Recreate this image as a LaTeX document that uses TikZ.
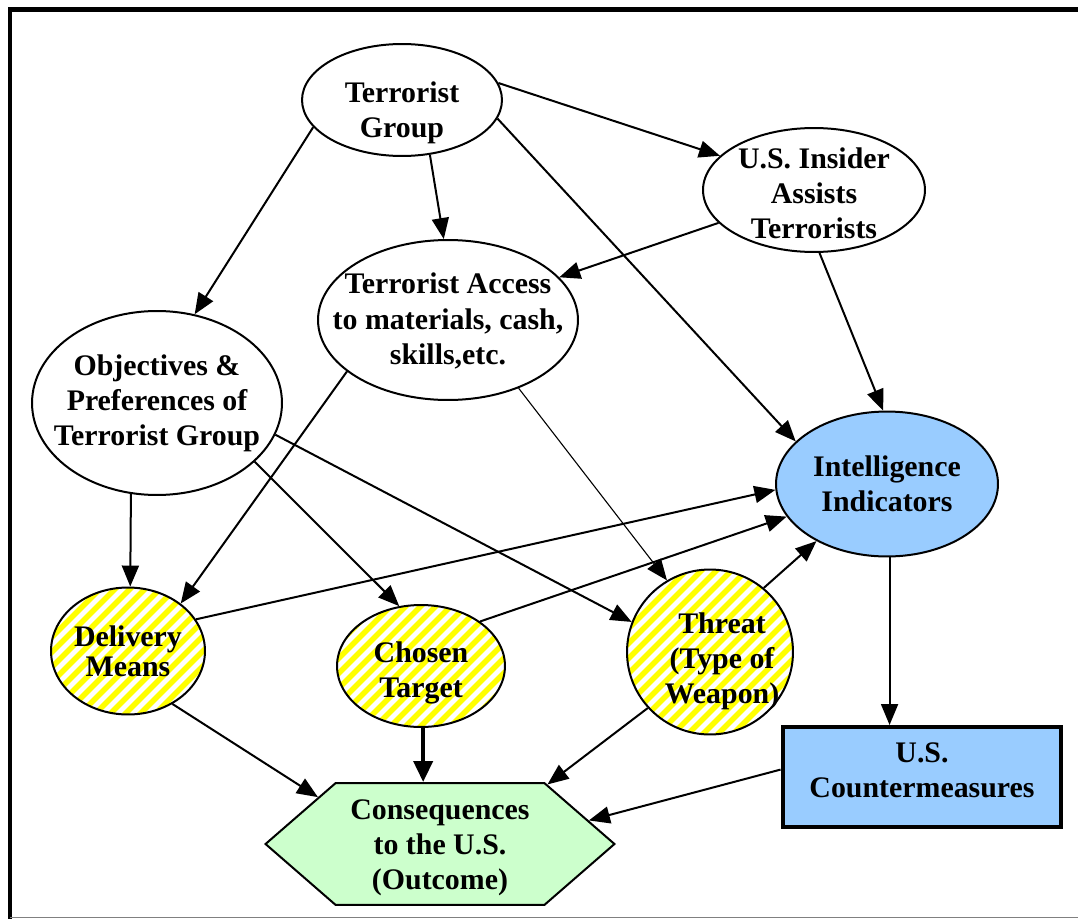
\documentclass[tikz,border=0pt]{standalone}
\usepackage{fontspec}
\setmainfont{Liberation Serif}
\usetikzlibrary{shapes.geometric,shapes.symbols,arrows.meta}
\definecolor{lblue}{HTML}{99CCFF}
\definecolor{lgreen}{HTML}{CCFFCC}
\definecolor{stripey}{HTML}{FFFF00}
\tikzset{
  txt/.style={font=\fontsize{17}{20}\selectfont\bfseries, align=center, inner sep=0pt},
  ell/.style={ellipse, draw, line width=0.04cm, inner sep=0pt, fill=white},
  striped/.style={path picture={
      \foreach \k in {-13,...,13}{
        \draw[stripey, line width=0.11cm]
          ([xshift=\k*0.3cm]path picture bounding box.center) ++(-110,110) -- ++(220,-220);
      }}},
  arr/.style={-{Triangle[length=0.42cm,width=0.34cm]}, line width=0.04cm},
  thinarr/.style={-{Triangle[length=0.42cm,width=0.34cm]}, line width=0.022cm},
  thickarr/.style={-{Triangle[length=0.42cm,width=0.38cm]}, line width=0.08cm},
}
\begin{document}
\begin{tikzpicture}[x=0.02cm,y=-0.02cm]
\useasboundingbox (0,0) rectangle (1078,919);
% frame
\draw[line width=0.1cm] (1078,10) -- (10,10) -- (10,919);
\draw[gray, line width=0.03cm] (10,917.5) -- (1078,917.5);

% nodes
\node[ell, minimum width=4cm, minimum height=2.24cm,
  label={[txt,yshift=-0.26cm]center:Terrorist\\Group}] (tg) at (402,100) {};
\node[ell, minimum width=4.44cm, minimum height=2.48cm,
  label={[txt,yshift=-0.06cm]center:U.S. Insider\\Assists\\Terrorists}] (ins) at (814,190) {};
\node[ell, minimum width=5.2cm, minimum height=3.2cm,
  label={[txt,yshift=-0.02cm]center:Terrorist Access\\to materials, cash,\\skills,etc.}] (acc) at (448,320) {};
\node[ell, minimum width=5cm, minimum height=3.68cm,
  label={[txt]center:Objectives \&\\Preferences of\\Terrorist Group}] (obj) at (157,403) {};
\node[ell, fill=lblue, minimum width=4.44cm, minimum height=2.9cm,
  label={[txt]center:Intelligence\\Indicators}] (int) at (887,484) {};
\node[ell, striped, minimum width=3.08cm, minimum height=2.54cm,
  label={[txt,font=\fontsize{17}{17}\selectfont\bfseries]center:Delivery\\Means}] (del) at (128,651) {};
\node[ell, striped, minimum width=3.36cm, minimum height=2.44cm,
  label={[txt,yshift=-0.14cm]center:Chosen\\Target}] (cho) at (421,666) {};
\node[ell, striped, minimum width=3.32cm, minimum height=3.3cm,
  label={[txt,yshift=-0.18cm,xshift=0.24cm]center:Threat\\(Type of\\Weapon)}] (thr) at (710,652) {};
\node[draw, line width=0.08cm, fill=lblue, inner sep=0pt, minimum width=5.58cm, minimum height=2cm,
  label={[txt,yshift=0.14cm]center:U.S.\\Countermeasures}] (cm) at (922,777) {};
\node[signal, signal to=west and east, signal pointer angle=82, draw, line width=0.04cm,
  fill=lgreen, inner sep=0pt, minimum width=6.98cm, minimum height=2.44cm,
  label={[txt,yshift=-0.08cm]center:Consequences\\to the U.S.\\(Outcome)}] (cons) at (440,844) {};

% connectors
\draw[arr] (tg.10) -- (ins.160);
\draw[arr] (tg.-63) -- (acc.93);
\draw[arr] (tg.197) -- (obj.67);
\draw[arr] (tg.-11) -- (int.155);
\draw[arr] (ins.199) -- (acc.21);
\draw[arr] (ins.-85) -- (int.93);
\draw[arr] (acc.207) -- (del.42);
\draw[thinarr] (acc.-44) -- (thr.121);
\draw[arr] (obj.254) -- (del.88);
\draw[arr] (obj.-31) -- (cho.110);
\draw[arr] (obj.-15) -- (thr.159);
\draw[arr] (del.25) -- (int.183);
\draw[arr] (cho.37) -- (int.198);
\draw[arr] (thr.50) -- (int.219);
\draw[arr] (int.272) -- (int.272 |- cm.north);
\draw[arr] (del.-50) -- (cons.159);
\draw[thickarr] (cho.272) -- (cho.272 |- cons.north);
\draw[arr] (thr.222) -- (cons.29);
\draw[arr] (cm.177) -- (cons.9);
\end{tikzpicture}
\end{document}
